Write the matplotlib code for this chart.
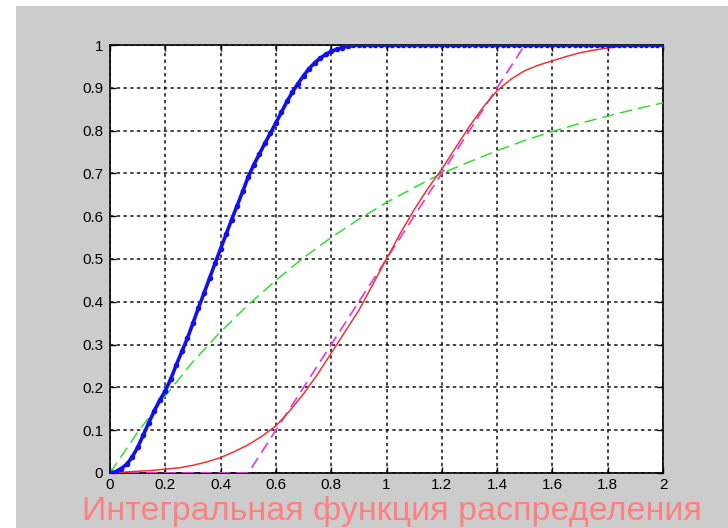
import numpy as np
import matplotlib
matplotlib.use("Agg")
import matplotlib.pyplot as plt
from matplotlib.patches import Rectangle

plt.rcParams['font.family'] = ['Liberation Sans', 'DejaVu Sans']

# blue curve, sampled every 0.02 up to 0.9, flat at 1 afterwards
blue_x = np.round(np.arange(0, 2.0001, 0.02), 2)
blue_rise = [0.0, 0.003, 0.01, 0.02, 0.037, 0.06, 0.088, 0.117, 0.145, 0.17,
             0.192, 0.22, 0.253, 0.284, 0.315, 0.35, 0.386, 0.42, 0.455, 0.49,
             0.524, 0.558, 0.592, 0.625, 0.658, 0.692, 0.72, 0.745, 0.77, 0.794,
             0.818, 0.843, 0.868, 0.89, 0.91, 0.928, 0.945, 0.958, 0.969, 0.978,
             0.985, 0.99, 0.994, 0.997, 0.999, 1.0]
blue_y = blue_rise + [1.0] * (len(blue_x) - len(blue_rise))

# green dashed curve, every 0.1
green_x = np.round(np.arange(0, 2.0001, 0.1), 2)
green_y = [0.0, 0.095, 0.18, 0.26, 0.33, 0.393, 0.45, 0.503, 0.55, 0.593, 0.632,
           0.667, 0.70, 0.727, 0.753, 0.777, 0.798, 0.817, 0.834, 0.85, 0.865]

# red solid curve, every 0.05
red_x = np.round(np.arange(0, 2.0001, 0.05), 2)
red_y = [0.0, 0.002, 0.004, 0.006, 0.009, 0.012, 0.018, 0.026, 0.036, 0.05,
         0.066, 0.086, 0.11, 0.145, 0.185, 0.23, 0.28, 0.33, 0.38, 0.44,
         0.5, 0.56, 0.615, 0.665, 0.71, 0.76, 0.81, 0.855, 0.893, 0.92,
         0.94, 0.953, 0.963, 0.973, 0.982, 0.988, 0.993, 0.997, 0.999, 1.0, 1.0]

# magenta dashed line
mag_x = [0.0, 0.5, 1.5, 2.0]
mag_y = [0.0, 0.0, 1.0, 1.0]

xticks = [0, 0.2, 0.4, 0.6, 0.8, 1, 1.2, 1.4, 1.6, 1.8, 2]
yticks = [0, 0.1, 0.2, 0.3, 0.4, 0.5, 0.6, 0.7, 0.8, 0.9, 1]

W, H = 728, 528
fig = plt.figure(figsize=(W / 100, H / 100), dpi=100, facecolor='white')
# grey window background with a thin white margin at left and top
fig.patches.append(Rectangle((16 / W, 0), 1, 1 - 6 / H, transform=fig.transFigure,
                             facecolor='#cccccc', edgecolor='none', zorder=-10))

ax = fig.add_axes([110 / W, 55 / H, 553 / W, 428 / H])
ax.set_facecolor('white')

ax.plot(mag_x, mag_y, color='#dd44dd', lw=1.3, dashes=(6.5, 3.5), zorder=3)
ax.plot(green_x, green_y, color='#33dd33', lw=1.1, dashes=(8, 4), zorder=3)
ax.plot(red_x, red_y, color='#ee3333', lw=1.1, zorder=4)
ax.plot(blue_x, blue_y, color='#1010f0', lw=2.6, marker='.', ms=6, zorder=5)

ax.set_xlim(0, 2)
ax.set_ylim(0, 1)
ax.set_xticks(xticks)
ax.set_yticks(yticks)
ax.set_xticklabels([f'{v:g}' for v in xticks])
ax.set_yticklabels([f'{v:g}' for v in yticks])
ax.tick_params(direction='in', length=4, width=1, top=True, right=True,
               labelsize=11, colors='black')
ax.tick_params(axis='x', pad=3.6)
ax.tick_params(axis='y', pad=5)
ax.grid(True, color='#111111', lw=1.1, dashes=(2.2, 2.2))
for s in ax.spines.values():
    s.set_linewidth(1.2)
    s.set_color('black')

fig.text(392 / W, 8 / H, 'Интегральная функция распределения', color='#ff8080',
         fontsize=24.5, ha='center', va='baseline')

fig.savefig('out.png', dpi=100, facecolor=fig.get_facecolor())
